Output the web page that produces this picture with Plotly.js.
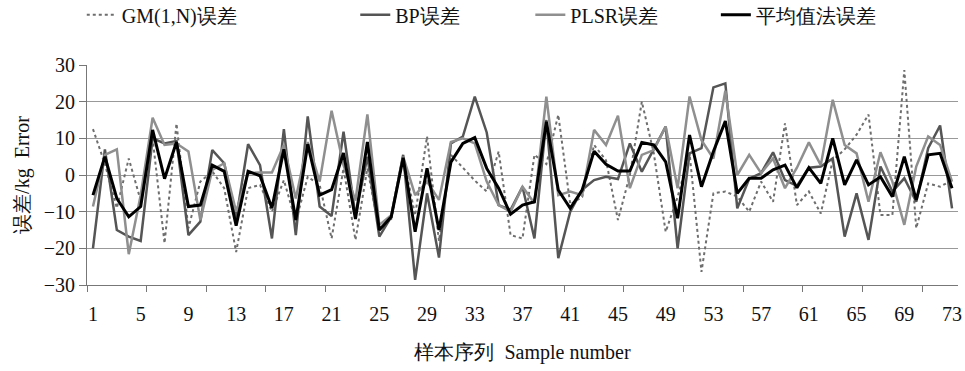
<!DOCTYPE html>
<html>
<head>
<meta charset="utf-8">
<script src="https://cdn.plot.ly/plotly-3.0.1.min.js"></script>
<style>html,body{margin:0;padding:0;background:#fff;}#chart{width:965px;height:371px;}</style>
</head>
<body>
<div id="chart"></div>
<script>
// Sample numbers 1..73
const samples = [];
for (let i = 1; i <= 73; i++) samples.push(i);

const tickLabels = [1,5,9,13,17,21,25,29,33,37,41,45,49,53,57,61,65,69,73];

const gmError = [12.5,3,-9,4.5,-7,10,-18.6,14,-14.5,-1.8,1,-3.6,-21,-3.6,-2.7,-10,-1.4,-12.7,-0.5,-2.7,
  -17.3,1.8,-17.7,1.8,-15,-12,5,-11,10.5,-18,5.5,2,-1.5,-4.5,6.4,-16.4,-17.3,5.5,3,16.4,
  -8,-6,8.2,4,-12.3,0,20,6,-15.5,-6,6,-26.4,-5,-4.5,-5.9,-10,-1.8,-7.3,14.1,-8.2,
  -4.5,-10.5,4,7,11,16.5,-10.9,-10.9,28.6,-14.5,-2.3,-3.2,-1.4];

const bpError = [-20,7,-15,-16.8,-18,10,8.6,9.3,-16.4,-12.7,6.8,3.2,-12,8.4,2.7,-17.3,12.5,-16.4,16,-8.6,
  -11.2,11.8,-11,5,-16.8,-11.4,5.5,-28.6,-5,-22.5,8.6,10.5,21.4,11.6,-8.2,-9.5,-3.2,-17.3,15,-22.7,
  -10,-4,-1.4,-0.5,-1.1,8.6,0.9,7,13.2,-20,5.9,7.3,23.9,25,-9.1,-1,0.5,6.2,-1.4,-3,
  2,2.3,4.5,-16.8,-5,-17.7,2.3,-4.5,-0.9,-7.3,7.3,13.5,-9.1];

const plsrError = [-8.6,5.5,7,-21.6,-5.5,15.6,8.2,8.6,6.4,-12.3,1.4,3.2,-10,0.5,0.7,0.7,8.2,-6.4,9,-1.8,
  17.5,2.7,-7,16.5,-13.6,-11,5,-5.5,-1.8,-6.8,9,10,8.6,-1.8,-8.2,-10,-3.2,-7.7,21.4,-5.5,
  -4.5,-5.5,12.3,8.2,16.2,-3.6,5.5,6.8,13.2,-3.6,21.4,9.5,4.5,23,0,5.5,0.5,4.5,-3.6,2,
  8.9,2.7,20.5,8.2,5.9,-7.3,6.2,-1.8,-13.6,2.3,10.5,8.2,-1.8];

const avgError = [-5.5,5,-6.4,-11.4,-8.6,12.3,-1,9,-8.6,-8.2,2.7,1,-13.8,1,-0.2,-9,7,-12.3,8.4,-5.5,
  -4,6,-12,9,-15,-11.4,4.7,-15.5,1.8,-15,3.5,8.6,10.2,1.8,-3.6,-10.7,-8.2,-7.3,14.5,-4.1,
  -9.1,-4.1,6.5,2.9,1.1,1.1,8.9,8.2,3.6,-11.8,10.9,-3.2,6.4,14.7,-5,-0.9,-0.9,1.4,2.7,-3.5,
  2,-2.3,10,-2.7,4.1,-2.7,-0.5,-5.9,5,-6.8,5.5,5.9,-3.6];

const FONT = 'Liberation Serif';

const traces = [
  {x: samples, y: gmError, name: 'GM(1,N)误差', type: 'scatter', mode: 'lines',
   line: {color: '#6e6e6e', width: 2, dash: 'dot'}, legend: 'legend'},
  {x: samples, y: bpError, name: 'BP误差', type: 'scatter', mode: 'lines',
   line: {color: '#555555', width: 2.5}, legend: 'legend2'},
  {x: samples, y: plsrError, name: 'PLSR误差', type: 'scatter', mode: 'lines',
   line: {color: '#8f8f8f', width: 2.5}, legend: 'legend3'},
  {x: samples, y: avgError, name: '平均值法误差', type: 'scatter', mode: 'lines',
   line: {color: '#000000', width: 3}, legend: 'legend4'}
];

const minorTicks = [];
for (let v = 0.5; v <= 73.5; v += 5) minorTicks.push(v);

function leg(x) {
  return {x: x, y: 1.228, xanchor: 'left', yanchor: 'middle', orientation: 'h',
          bgcolor: 'rgba(0,0,0,0)', font: {family: FONT, size: 20, color: '#111'}};
}

const layout = {
  width: 965, height: 371,
  margin: {l: 87, r: 7, t: 65, b: 86, autoexpand: false},
  paper_bgcolor: '#fff', plot_bgcolor: '#fff',
  font: {family: FONT, size: 20, color: '#111'},
  showlegend: true,
  legend: leg(-0.006),
  legend2: leg(0.308),
  legend3: leg(0.509),
  legend4: leg(0.722),
  xaxis: {
    range: [0.5, 73.5], tickmode: 'array', tickvals: tickLabels, ticktext: tickLabels.map(String),
    ticks: '', showgrid: false, zeroline: false, showline: true, linecolor: '#777', linewidth: 1,
    ticklabelstandoff: 11, tickfont: {family: FONT, size: 20, color: '#111'},
    minor: {tickmode: 'array', tickvals: minorTicks, ticks: 'outside', ticklen: 6, tickcolor: '#777', tickwidth: 1, showgrid: false},
    title: {text: '样本序列  Sample number', font: {family: FONT, size: 20, color: '#111'}, standoff: 20}
  },
  yaxis: {
    range: [-30, 30], dtick: 10, tick0: 0, ticks: 'outside', ticklen: 7, tickcolor: '#777',
    showgrid: true, gridcolor: '#999', gridwidth: 1, zeroline: false,
    showline: true, linecolor: '#777', linewidth: 1,
    tickfont: {family: FONT, size: 20, color: '#111'},
    tickformat: 'd',
    title: {text: '误差/kg  Error', font: {family: FONT, size: 20, color: '#111'}, standoff: 8}
  }
};

Plotly.newPlot('chart', traces, layout, {displayModeBar: false, staticPlot: true});
</script>
</body>
</html>
